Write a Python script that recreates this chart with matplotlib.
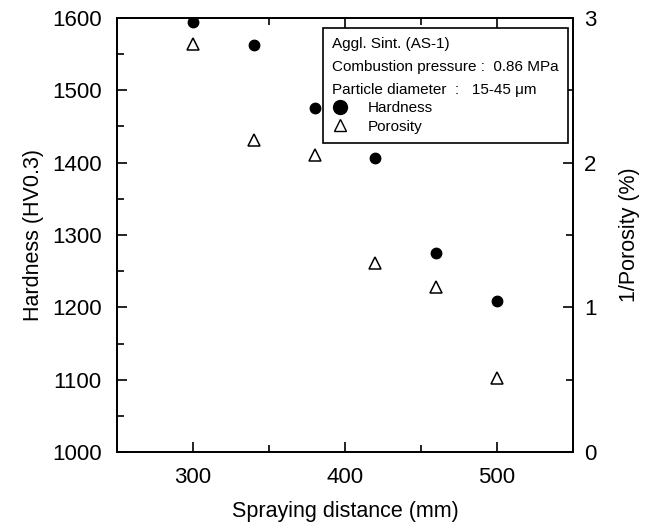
import matplotlib
matplotlib.use("Agg")
import matplotlib.pyplot as plt
from matplotlib.lines import Line2D
from matplotlib.ticker import MultipleLocator

plt.rcParams['font.family'] = ['Liberation Sans', 'DejaVu Sans']

distance = [300, 340, 380, 420, 460, 500]
hardness = [1594, 1563, 1476, 1406, 1275, 1209]
inv_porosity = [2.82, 2.16, 2.05, 1.31, 1.14, 0.51]

fig = plt.figure(figsize=(6.49, 5.27), dpi=100)
ax = fig.add_axes([0.180, 0.142, 0.703, 0.824])
ax2 = ax.twinx()

ax.plot(distance, hardness, 'o', color='black', markersize=7.5, zorder=3)
ax2.plot(distance, inv_porosity, '^', mfc='white', mec='black', mew=1.1,
         markersize=8, zorder=3)

ax.set_xlim(250, 550)
ax.set_ylim(1000, 1600)
ax2.set_ylim(0, 3)

ax.xaxis.set_major_locator(MultipleLocator(100))
ax.xaxis.set_minor_locator(MultipleLocator(50))
ax.yaxis.set_major_locator(MultipleLocator(100))
ax.yaxis.set_minor_locator(MultipleLocator(50))
ax2.yaxis.set_major_locator(MultipleLocator(1))
ax2.yaxis.set_minor_locator(MultipleLocator(0.5))

ax.tick_params(which='both', direction='in', top=True, labelsize=16, width=1.2)
ax.tick_params(axis='y', pad=11)
ax.tick_params(axis='x', pad=11)
ax.tick_params(which='major', length=7)
ax.tick_params(which='minor', length=5)
ax2.tick_params(which='both', direction='in', labelsize=16, width=1.2, pad=8)
ax2.tick_params(which='major', length=7)
ax2.tick_params(which='minor', length=5)

for a in (ax, ax2):
    for s in a.spines.values():
        s.set_linewidth(1.3)

ax.set_xlabel('Spraying distance (mm)', fontsize=15.5, labelpad=9)
ax.set_ylabel('Hardness (HV0.3)', fontsize=15.5, labelpad=6)
ax2.set_ylabel('1/Porosity (%)', fontsize=15.5, labelpad=16)

handles = [
    Line2D([], [], ls='none', marker='o', color='black', markersize=10),
    Line2D([], [], ls='none', marker='^', mfc='white', mec='black', markersize=9),
]
leg = ax2.legend(handles, ['Hardness', 'Porosity'],
                 title='Aggl. Sint. (AS-1)\nCombustion pressure :  0.86 MPa\nParticle diameter  :   15-45 \u03bcm',
                 title_fontsize=11, fontsize=11, alignment='left',
                 loc='upper right', bbox_to_anchor=(0.989, 0.977),
                 borderaxespad=0,
                 fancybox=False, edgecolor='black', framealpha=1,
                 handletextpad=1.3, borderpad=0.6, labelspacing=0.3,
                 handlelength=1.0)
leg.get_title().set_linespacing(1.8)
leg.get_frame().set_linewidth(1.2)

fig.savefig('out.png', dpi=100)
